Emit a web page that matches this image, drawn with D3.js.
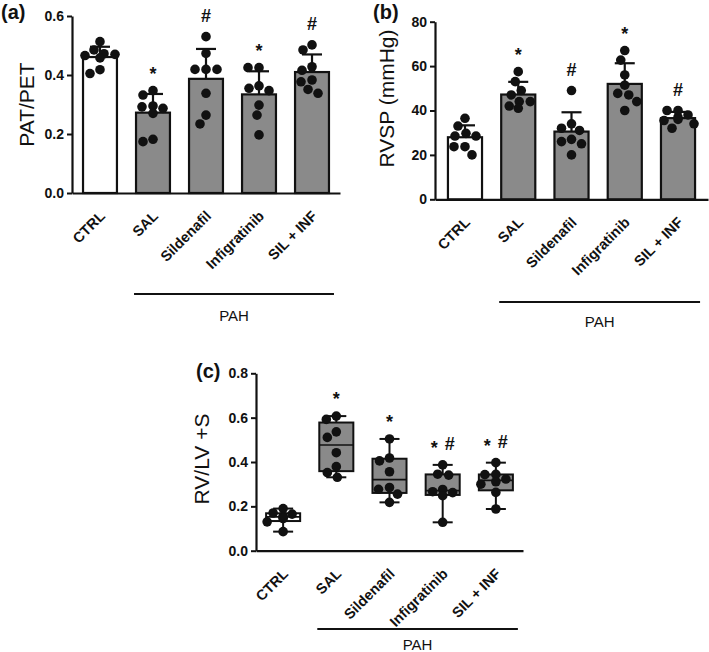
<!DOCTYPE html>
<html><head><meta charset="utf-8">
<script src="https://cdn.jsdelivr.net/npm/d3@7"></script>
<style>
html,body{margin:0;padding:0;background:#fff;}
svg{display:block;font-family:"Liberation Sans",Arial,sans-serif;}
</style></head>
<body>
<svg id="chart" width="709" height="652"></svg>
<script>
// ---------------- DATA ----------------
const categories = ["CTRL", "SAL", "Sildenafil", "Infigratinib", "SIL + INF"];
const groupLabel = "PAH";

// (a) PAT/PET
const patTicks = [0.0, 0.2, 0.4, 0.6];
const patDots = [
  [0.513, 0.485, 0.472, 0.470, 0.466, 0.458, 0.418, 0.405],
  [0.347, 0.332, 0.295, 0.292, 0.287, 0.270, 0.182, 0.174],
  [0.530, 0.473, 0.419, 0.419, 0.419, 0.338, 0.264, 0.234],
  [0.425, 0.425, 0.363, 0.355, 0.347, 0.298, 0.264, 0.197],
  [0.502, 0.485, 0.428, 0.416, 0.383, 0.377, 0.351, 0.338]
];
const patSig = ["", "*", "#", "*", "#"];

// (b) RVSP (mmHg)
const rvspTicks = [0, 20, 40, 60, 80];
const rvspDots = [
  [36.5, 33.0, 29.7, 28.5, 28.5, 23.7, 23.7, 20.0],
  [57.5, 53.0, 49.0, 47.0, 44.0, 44.0, 42.0, 41.0],
  [49.0, 34.0, 32.0, 31.0, 27.0, 26.0, 25.0, 20.0],
  [67.0, 62.7, 56.0, 51.4, 47.7, 47.0, 44.0, 40.0],
  [40.0, 40.0, 38.0, 37.0, 36.0, 35.5, 34.0, 32.0]
];
const rvspSig = ["", "*", "#", "*", "#"];

// (c) RV/LV +S
const rvlvTicks = [0.0, 0.2, 0.4, 0.6, 0.8];
const rvlvDots = [
  [0.190, 0.170, 0.165, 0.155, 0.150, 0.145, 0.130, 0.086],
  [0.607, 0.592, 0.536, 0.511, 0.442, 0.379, 0.352, 0.331],
  [0.504, 0.418, 0.405, 0.356, 0.285, 0.277, 0.255, 0.218],
  [0.387, 0.345, 0.341, 0.276, 0.266, 0.262, 0.248, 0.128],
  [0.397, 0.344, 0.343, 0.323, 0.311, 0.300, 0.263, 0.188]
];
const rvlvSig = ["", "*", "*", "* #", "* #"];

// ---------------- DRAW ----------------
const svg = d3.select("#chart");
const GRAY = "#8a8a8a";
const R = 4.8;
const SIGSIZE = 18;

function dodge(vals, y, r, maxOff) {
  const placed = [];
  const order = vals.map((v, i) => i).sort((a, b) => vals[b] - vals[a]);
  const offs = new Array(vals.length).fill(0);
  order.forEach(i => {
    const py = y(vals[i]);
    let chosen = 0, ok = false;
    for (let k = 0; k <= maxOff * 2 && !ok; k++) {
      const cand = (k % 2 === 0 ? 1 : -1) * Math.ceil(k / 2);
      if (placed.every(p => Math.hypot(p[0] - cand, p[1] - py) >= 2 * r + 0.6)) { chosen = cand; ok = true; }
    }
    offs[i] = chosen; placed.push([chosen, py]);
  });
  return offs;
}

function prismQuantile(sorted, p) {
  const n = sorted.length, pos = p * (n + 1);
  if (pos <= 1) return sorted[0];
  if (pos >= n) return sorted[n - 1];
  const lo = Math.floor(pos), f = pos - lo;
  return sorted[lo - 1] + f * (sorted[lo] - sorted[lo - 1]);
}

function panel(cfg) {
  const g = svg.append("g");
  const x = d3.scaleBand().domain(categories).range(cfg.xRange)
    .paddingInner(0.36).paddingOuter(cfg.po);
  const y = d3.scaleLinear().domain([0, d3.max(cfg.ticks)]).range(cfg.yRange);
  const bw = x.bandwidth();
  const cx = c => x(c) + bw / 2;

  // x axis line
  g.append("g").attr("transform", `translate(0,${cfg.yRange[0]})`)
    .call(d3.axisBottom(x).tickSize(0).tickSizeOuter(0).tickFormat(""))
    .call(s => s.select(".domain").attr("stroke", "#111").attr("stroke-width", 2.2));

  // y axis
  g.append("g").attr("transform", `translate(${cfg.xRange[0]},0)`)
    .call(d3.axisLeft(y).tickValues(cfg.ticks).tickSize(5).tickSizeOuter(0).tickPadding(3).tickFormat(cfg.fmt))
    .call(s => {
      s.select(".domain").attr("stroke", "#111").attr("stroke-width", 2.2);
      s.selectAll(".tick line").attr("stroke", "#111").attr("stroke-width", 2);
      s.selectAll(".tick text").attr("fill", "#111").attr("font-size", 14).attr("font-weight", "bold")
        .attr("font-family", "'Liberation Sans',Arial,sans-serif");
    });

  const groups = categories.map((c, i) => ({ c, i, vals: cfg.dots[i] }));

  if (cfg.type === "bar") {
    groups.forEach(d => {
      d.mean = d3.mean(d.vals);
      d.sd = d3.deviation(d.vals);
    });
    g.selectAll("rect.bar").data(groups).join("rect").attr("class", "bar")
      .attr("x", d => x(d.c)).attr("width", bw)
      .attr("y", d => y(d.mean)).attr("height", d => y(0) - y(d.mean))
      .attr("fill", d => d.i === 0 ? "#fff" : GRAY)
      .attr("stroke", "#111").attr("stroke-width", 2.2);
    g.selectAll("line.eb").data(groups).join("line").attr("class", "eb")
      .attr("x1", d => cx(d.c)).attr("x2", d => cx(d.c))
      .attr("y1", d => y(d.mean)).attr("y2", d => y(d.mean + d.sd))
      .attr("stroke", "#111").attr("stroke-width", 2.2);
    g.selectAll("line.cap").data(groups).join("line").attr("class", "cap")
      .attr("x1", d => cx(d.c) - 10).attr("x2", d => cx(d.c) + 10)
      .attr("y1", d => y(d.mean + d.sd)).attr("y2", d => y(d.mean + d.sd))
      .attr("stroke", "#111").attr("stroke-width", 2.2);
  } else {
    groups.forEach(d => {
      const s = d.vals.slice().sort(d3.ascending);
      d.min = s[0]; d.max = s[s.length - 1];
      d.q1 = prismQuantile(s, 0.25); d.med = prismQuantile(s, 0.5); d.q3 = prismQuantile(s, 0.75);
    });
    const wl = (cls, f1, f2) => g.selectAll("line." + cls).data(groups).join("line").attr("class", cls)
      .attr("x1", d => cx(d.c)).attr("x2", d => cx(d.c))
      .attr("y1", d => y(f1(d))).attr("y2", d => y(f2(d)))
      .attr("stroke", "#111").attr("stroke-width", 2);
    wl("wlo", d => d.min, d => d.q1);
    wl("whi", d => d.q3, d => d.max);
    ["min", "max"].forEach(k => {
      g.selectAll("line.cap" + k).data(groups).join("line").attr("class", "cap" + k)
        .attr("x1", d => cx(d.c) - 10).attr("x2", d => cx(d.c) + 10)
        .attr("y1", d => y(d[k])).attr("y2", d => y(d[k]))
        .attr("stroke", "#111").attr("stroke-width", 2);
    });
    g.selectAll("rect.box").data(groups).join("rect").attr("class", "box")
      .attr("x", d => x(d.c)).attr("width", bw)
      .attr("y", d => y(d.q3)).attr("height", d => y(d.q1) - y(d.q3))
      .attr("fill", d => d.i === 0 ? "#fff" : GRAY)
      .attr("stroke", "#111").attr("stroke-width", 2);
    g.selectAll("line.med").data(groups).join("line").attr("class", "med")
      .attr("x1", d => x(d.c)).attr("x2", d => x(d.c) + bw)
      .attr("y1", d => y(d.med)).attr("y2", d => y(d.med))
      .attr("stroke", "#111").attr("stroke-width", 1.6);
  }

  // dots
  groups.forEach(d => {
    const offs = dodge(d.vals, y, R, 16);
    g.selectAll(null).data(d.vals).join("circle")
      .attr("cx", (v, j) => cx(d.c) + offs[j]).attr("cy", v => y(v)).attr("r", R)
      .attr("fill", "#111");
  });

  // significance marks (centred ~21px above the highest mark of the group)
  groups.filter(d => cfg.sig[d.i]).forEach(d => {
    const top = cfg.type === "bar" ? Math.max(d3.max(d.vals), d.mean + d.sd) : d3.max(d.vals);
    const center = y(top) - 21;
    const parts = cfg.sig[d.i].split(" ");
    const t = g.append("text").attr("x", cx(d.c)).attr("y", center)
      .attr("text-anchor", "middle").attr("font-size", SIGSIZE).attr("font-weight", "bold").attr("fill", "#111");
    parts.forEach((p, k) => {
      t.append("tspan").attr("dx", k === 0 ? 0 : 7)
        .attr("dy", k === 0 ? (p === "*" ? 10 : 6.5) : (p === "*" ? 3.5 : -3.5))
        .text(p);
    });
  });

  // category labels
  g.selectAll("text.cat").data(categories).join("text").attr("class", "cat")
    .attr("transform", c => `translate(${cx(c) + 6},${cfg.yRange[0] + 24}) rotate(-45)`)
    .attr("text-anchor", "end").attr("font-size", 14.5).attr("font-weight", "bold").attr("fill", "#111")
    .text(c => c);

  // PAH bracket
  g.append("line")
    .attr("x1", x(categories[1]) - 2).attr("x2", x(categories[4]) + bw + 5)
    .attr("y1", cfg.pahY).attr("y2", cfg.pahY)
    .attr("stroke", "#111").attr("stroke-width", 2.2);
  g.append("text")
    .attr("x", (x(categories[1]) - 2 + x(categories[4]) + bw + 5) / 2).attr("y", cfg.pahTextY)
    .attr("text-anchor", "middle").attr("font-size", 15).attr("fill", "#111").text(groupLabel);

  // y title
  g.append("text")
    .attr("transform", `translate(${cfg.titleX},${(cfg.yRange[0] + cfg.yRange[1]) / 2 + cfg.titleDy}) rotate(-90)`)
    .attr("text-anchor", "middle").attr("font-size", 21).attr("fill", "#111").text(cfg.title);

  // panel letter
  g.append("text").attr("x", cfg.letterX).attr("y", cfg.letterY)
    .attr("font-size", 20).attr("font-weight", "bold").attr("fill", "#111").text(cfg.letter);
}

panel({
  type: "bar", dots: patDots, ticks: patTicks, sig: patSig, fmt: d3.format(".1f"),
  xRange: [72, 340], po: 0.208, yRange: [193, 16],
  pahY: 294, pahTextY: 321, title: "PAT/PET", titleX: 34, titleDy: 0,
  letter: "(a)", letterX: 1, letterY: 19
});
panel({
  type: "bar", dots: rvspDots, ticks: rvspTicks, sig: rvspSig, fmt: d3.format("d"),
  xRange: [435, 708], po: 0.243, yRange: [199.3, 21.7],
  pahY: 302, pahTextY: 327, title: "RVSP (mmHg)", titleX: 394, titleDy: -12,
  letter: "(b)", letterX: 373, letterY: 19
});
panel({
  type: "box", dots: rvlvDots, ticks: rvlvTicks, sig: rvlvSig, fmt: d3.format(".1f"),
  xRange: [256, 523], po: 0.19, yRange: [550.7, 373.3],
  pahY: 629, pahTextY: 650, title: "RV/LV +S", titleX: 209, titleDy: -3,
  letter: "(c)", letterX: 196, letterY: 378
});
</script>
</body></html>
